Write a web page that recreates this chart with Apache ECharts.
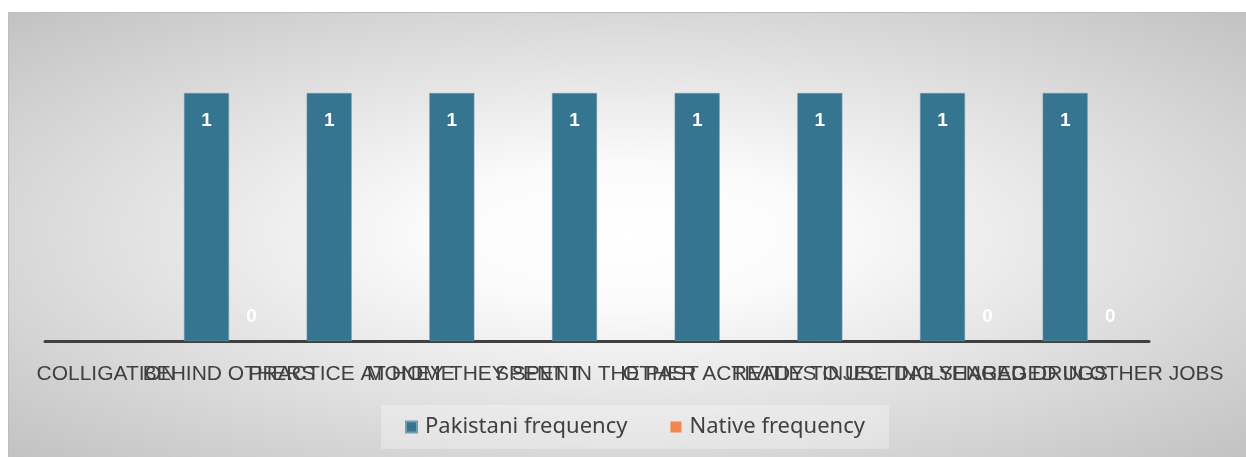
<!DOCTYPE html>
<html>
<head>
<meta charset="utf-8">
<script src="https://cdn.jsdelivr.net/npm/echarts@6/dist/echarts.min.js"></script>
<style>
  html, body { margin: 0; padding: 0; background: #ffffff; width: 1246px; height: 457px; overflow: hidden; }
  #frame {
    position: absolute; left: 8px; top: 12px; width: 1238px; height: 445px;
    box-sizing: border-box; border-left: 1px solid #bdbdbd; border-top: 1px solid #bdbdbd;
    background: radial-gradient(ellipse farthest-corner at 50% 50%, #ffffff 0%, #fbfbfb 22%, #c2c2c2 100%);
  }
  #chart { position: absolute; left: 9px; top: 13px; width: 1237px; height: 444px; }
</style>
</head>
<body>
<div id="frame"></div>
<div id="chart"></div>
<script>
const categories = [
  'COLLIGATION',
  'BEHIND OTHERS',
  'PRACTICE AT HOME',
  'MONEY THEY SPENT',
  'SPENT IN THE PAST',
  'OTHER ACTIVITIES',
  'READY TO USE DAILY',
  'INJECTING SHARED DRUGS',
  'ENGAGED IN OTHER JOBS'
];
const pakistaniFrequency = [null, 1, 1, 1, 1, 1, 1, 1, 1];
const nativeFrequency = [null, 0, null, null, null, null, null, 0, 0];
const seriesNames = ['Pakistani frequency', 'Native frequency'];

const chart = echarts.init(document.getElementById('chart'), null, { renderer: 'canvas' });
chart.setOption({
  backgroundColor: 'transparent',
  animation: false,
  color: ['#35758f', '#f0874f'],
  grid: { left: 36, top: 80, width: 1104, height: 248, containLabel: false },
  legend: {
    data: seriesNames,
    left: 372,
    top: 392,
    itemWidth: 11,
    itemHeight: 11,
    itemGap: 43,
    icon: 'rect',
    backgroundColor: 'rgba(255,255,255,0.3)',
    padding: [11, 24],
    textStyle: { fontFamily: 'Noto Sans', fontSize: 22, color: '#404040', padding: [0, 0, 0, 3] }
  },
  xAxis: {
    type: 'category',
    data: categories,
    axisLine: { show: true, lineStyle: { color: '#404040', width: 3 } },
    axisTick: { show: false },
    axisLabel: { interval: 0, hideOverlap: false, margin: 23, fontFamily: 'Liberation Sans', fontSize: 21, color: '#404040' },
    splitLine: { show: false }
  },
  yAxis: {
    type: 'value', min: 0, max: 1, show: false, splitLine: { show: false }
  },
  series: [
    {
      name: seriesNames[0], type: 'bar', data: pakistaniFrequency,
      barWidth: 45, barGap: '0%',
      itemStyle: { color: '#35758f', borderColor: '#6e9fb3', borderWidth: 0.5 },
      label: { show: true, position: 'insideTop', distance: 18, color: '#ffffff', fontWeight: 'bold', fontFamily: 'Liberation Sans', fontSize: 19 }
    },
    {
      name: seriesNames[1], type: 'bar', data: nativeFrequency,
      barWidth: 45,
      itemStyle: { color: '#f0874f' },
      label: { show: true, position: 'top', distance: 15, color: '#ffffff', fontWeight: 'bold', fontFamily: 'Liberation Sans', fontSize: 19 }
    }
  ]
});
</script>
</body>
</html>
